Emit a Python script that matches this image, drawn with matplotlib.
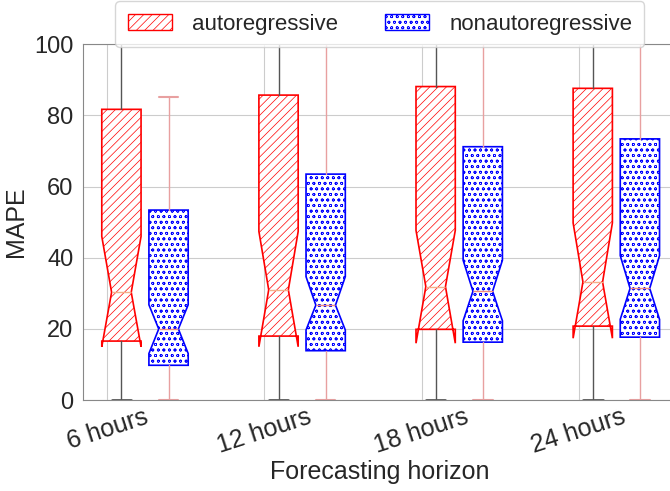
import numpy as np
import matplotlib
matplotlib.use("Agg")
import matplotlib.pyplot as plt
import matplotlib.patches as mpatches
import seaborn as sns

sns.set_style("whitegrid")
plt.rcParams['font.family'] = ['Liberation Sans', 'DejaVu Sans']
plt.rcParams['hatch.linewidth'] = 0.5

horizons = ["6 hours", "12 hours", "18 hours", "24 hours"]

# autoregressive model, box statistics per horizon
ar_whislo = [0, 0, 0, 0]
ar_q1 = [16.6, 18.0, 19.9, 20.8]
ar_med = [30.3, 31.0, 31.9, 33.2]
ar_q3 = [81.7, 85.7, 88.1, 87.6]
ar_whishi = [110, 110, 110, 110]
ar_cilo = [15.0, 15.0, 16.0, 17.4]
ar_cihi = [46.0, 47.4, 47.7, 49.8]

# nonautoregressive model
nar_whislo = [0, 0, 0, 0]
nar_q1 = [9.8, 13.9, 16.3, 17.7]
nar_med = [20.0, 26.7, 30.6, 31.4]
nar_q3 = [53.4, 63.5, 71.2, 73.4]
nar_whishi = [85.3, 110, 110, 110]
nar_cilo = [13.1, 19.7, 22.3, 22.7]
nar_cihi = [26.8, 34.7, 39.3, 40.6]


def make_stats(whislo, q1, med, q3, whishi, cilo, cihi):
    stats = []
    for i in range(len(med)):
        stats.append({"whislo": whislo[i], "q1": q1[i], "med": med[i], "q3": q3[i],
                      "whishi": whishi[i], "cilo": cilo[i], "cihi": cihi[i], "fliers": []})
    return stats


fig = plt.figure(figsize=(6.7, 4.91), dpi=100)
ax = fig.add_axes([0.124, 0.185, 0.885, 0.725])

ticks = np.arange(1, len(horizons) + 1)
width = 0.25

ar = ax.bxp(make_stats(ar_whislo, ar_q1, ar_med, ar_q3, ar_whishi, ar_cilo, ar_cihi),
            positions=ticks + 0.09, widths=width, shownotches=True, patch_artist=True,
            showfliers=False, manage_ticks=False,
            boxprops=dict(facecolor='white', edgecolor='red', hatch='////', linewidth=1.2),
            whiskerprops=dict(color='#555555', linewidth=1),
            capprops=dict(color='#555555', linewidth=2),
            medianprops=dict(color='#f4b08a', linewidth=1))

nar = ax.bxp(make_stats(nar_whislo, nar_q1, nar_med, nar_q3, nar_whishi, nar_cilo, nar_cihi),
             positions=ticks + 0.39, widths=width, shownotches=True, patch_artist=True,
             showfliers=False, manage_ticks=False,
             boxprops=dict(facecolor='white', edgecolor='blue', hatch='ooo', linewidth=1.2),
             whiskerprops=dict(color='#e8a0a0', linewidth=1),
             capprops=dict(color='#e8a0a0', linewidth=1.5),
             medianprops=dict(color='#f08a80', linewidth=1))

ax.set_xlim(0.846, 4.62)
ax.set_ylim(0, 100)
ax.set_xticks(ticks)
ax.set_xticklabels(horizons, rotation=18, ha='center', fontsize=18)
ax.tick_params(axis='x', pad=0)
ax.set_yticks(np.arange(0, 101, 20))
ax.tick_params(axis='y', labelsize=17)
ax.set_ylabel('MAPE', fontsize=18)
ax.set_xlabel('Forecasting horizon', fontsize=18, va='top')
ax.xaxis.set_label_coords(0.5, -0.168)
for s in ax.spines.values():
    s.set_color('#888888')

h1 = mpatches.Patch(facecolor='white', edgecolor='red', hatch='////', label='autoregressive')
h2 = mpatches.Patch(facecolor='white', edgecolor='blue', hatch='ooo', label='nonautoregressive')
fig.legend(handles=[h1, h2], loc='center', bbox_to_anchor=(0.567, 0.951), ncol=2, fontsize=16,
           borderpad=0.55, handletextpad=0.9, columnspacing=2.1)

fig.savefig('out.png', dpi=100)
